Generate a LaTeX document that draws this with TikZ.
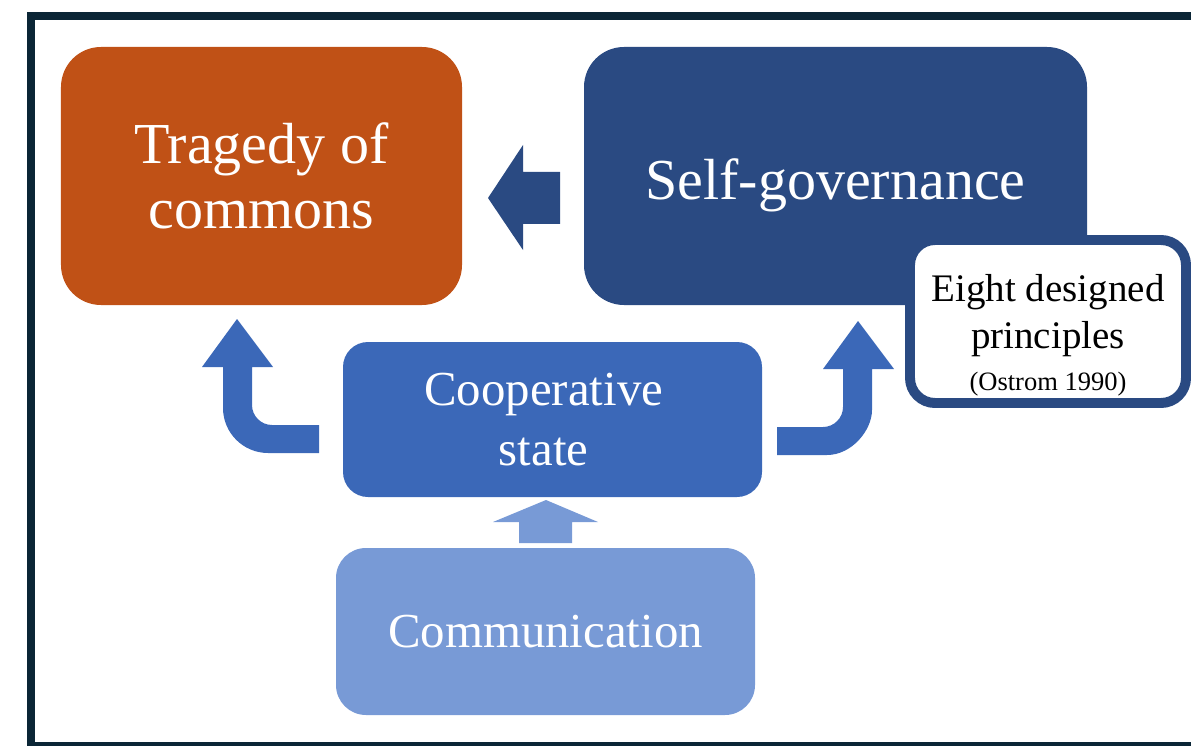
\documentclass[tikz,border=0pt]{standalone}
\usepackage{fontspec}
\setmainfont{Liberation Serif}
\usepackage{tikz}
\usetikzlibrary{positioning}
\definecolor{rust}{RGB}{192,81,22}
\definecolor{navy}{RGB}{42,74,130}
\definecolor{midblue}{RGB}{59,104,184}
\definecolor{lightblue}{RGB}{120,154,214}
\definecolor{framecol}{RGB}{11,38,54}

\begin{document}
\begin{tikzpicture}[x=0.2mm,y=-0.2mm]% one unit = one pixel of the reference
    \tikzstyle{box} = [rounded corners=8mm, text=white, align=center, inner sep=0pt]
    \tikzstyle{big} = [font=\fontsize{33}{37.4}\selectfont]
    \tikzstyle{mid} = [font=\fontsize{27.8}{34}\selectfont]
    \tikzstyle{fat} = [draw=none]
    \useasboundingbox (0,0) rectangle (1191,746);
    \draw[framecol, line width=4.5pt] (31,16) rectangle (1260,746);
    % boxes
    \node[box,big,fill=rust,minimum width=80.2mm,minimum height=51.6mm]
    (tragedy) at (261.5,176) {Tragedy of\\commons};
    \node[box,big,fill=navy,minimum width=100.6mm,minimum height=51.6mm,
    text height=34pt,text depth=7.5pt] (selfgov) at (835.5,176) {Self-governance};
    \node[box,mid,fill=midblue,rounded corners=5mm,minimum width=83.8mm,
    minimum height=31mm] (coop) at (552.5,419.5) {Cooperative\hspace*{10pt}\\state\hspace*{10pt}};
    \node[box,mid,fill=lightblue,rounded corners=6mm,minimum width=83.8mm,
    minimum height=33.4mm] (comm) at (545.5,631.5) {Communication};
    \node[box,fill=white,draw=navy,line width=5.67pt,text=black,
    rounded corners=5mm,minimum width=55.2mm,minimum height=32.6mm,
    font=\fontsize{22.2}{26.7}\selectfont] (eight) at (1048,321.5)
    {\rule{0pt}{31pt}Eight designed\\principles\\[-3pt]{\fontsize{15.1}{18}\selectfont (Ostrom 1990)}};
    % block arrows
    \fill[fat,navy] (560,172) -- (523,172) -- (523,145) -- (488,198)
    -- (523,250) -- (523,224) -- (560,224) -- cycle;
    \fill[fat,midblue] (319,453) -- (268,453)
    .. controls (243.2,453) and (223,432.8) .. (223,408) -- (223,367)
    -- (202,367) -- (237,319) -- (273,367) -- (252,367) -- (252,405)
    .. controls (252,416) and (261,425) .. (272,425) -- (319,425) -- cycle;
    \fill[fat,midblue] (777,455) -- (827,455)
    .. controls (851.8,455) and (872,430.2) .. (872,410) -- (872,369)
    -- (894,369) -- (858,321) -- (823,369) -- (843,369) -- (843,407)
    .. controls (843,418) and (834,427) .. (823,427) -- (777,427) -- cycle;
    \fill[fat,lightblue] (519,543) -- (519,522) -- (493,522) -- (546,500)
    -- (598,522) -- (572,522) -- (572,543) -- cycle;
  \end{tikzpicture}
\end{document}
